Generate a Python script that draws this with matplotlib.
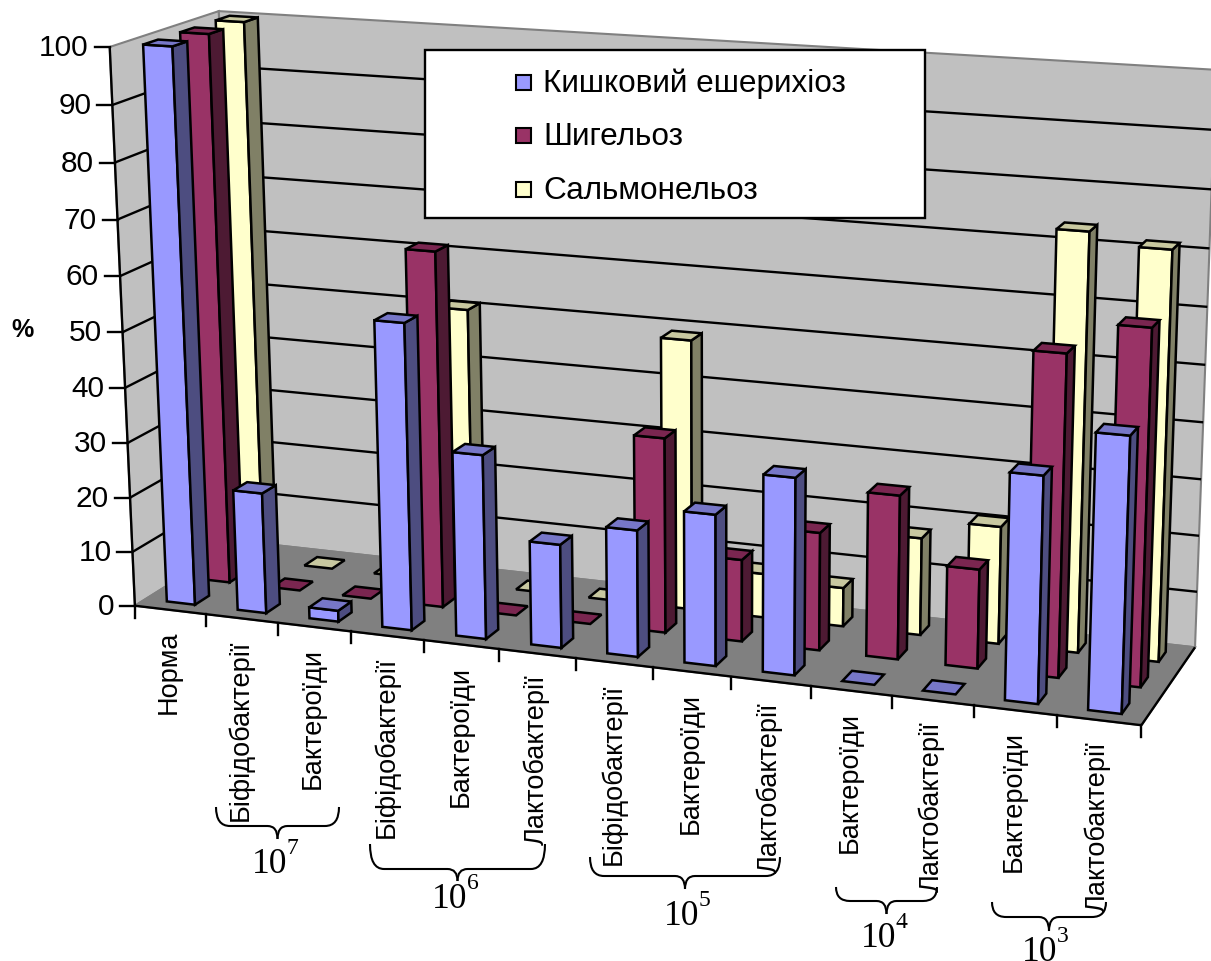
import numpy as np
import matplotlib
matplotlib.use("Agg")
import matplotlib.pyplot as plt
from matplotlib.path import Path
from matplotlib.patches import PathPatch, Rectangle

# Data (%)
categories = ["Норма", "Біфідобактерії", "Бактероїди", "Біфідобактерії", "Бактероїди", "Лактобактерії",
              "Біфідобактерії", "Бактероїди", "Лактобактерії", "Бактероїди", "Лактобактерії",
              "Бактероїди", "Лактобактерії"]
series_names = ["Кишковий ешерихіоз", "Шигельоз", "Сальмонельоз"]
escherichiosis = [100, 22, 2, 55, 33, 18.5, 22.5, 26.7, 34.5, 0, 0, 39, 47]
shigellosis = [100, 0, 0, 64.5, 0, 0, 35, 14.7, 21, 29, 17.5, 56, 61.5]
salmonellosis = [100, 0, 0, 51, 0, 0, 49, 8, 7, 17.5, 21, 73.5, 71.5]
yticks = list(range(0, 101, 10))
groups = [("7", 216, 339, 808, 827, 840, 252, 873),
          ("6", 370, 545, 845, 870, 882, 432, 908),
          ("5", 590, 780, 858, 877, 890, 664, 925),
          ("4", 836, 937, 888, 902, 915, 861, 947),
          ("3", 992, 1106, 903, 918, 932, 1022, 961)]

front = ["#9999FF", "#993366", "#FFFFCC"]
side = ["#4D4D80", "#4D1A33", "#808066"]
top = ["#7777C8", "#7A2650", "#C8C8A0"]

# Perspective of the Excel-style box, fitted from the frame corners
# (category, row, value) -> picture pixel
frame = [((0, 0, 0), (135, 606)), ((0, 0, 100), (110, 46)), ((0, 0, 50), (122, 334)),
         ((0, 3, 0), (239, 543)), ((0, 3, 100), (219, 13)),
         ((13, 0, 0), (1141, 725)), ((13, 0, 100), (1163, 118)),
         ((13, 3, 0), (1196, 649)), ((13, 3, 100), (1214, 68)),
         ((1, 0, 0), (206, 615)), ((5, 0, 0), (498, 650)), ((12, 0, 0), (1057, 716))]
A = []
for (x, z, v), (u, w) in frame:
    A.append([x, z, v, 1, 0, 0, 0, 0, -u * x, -u * z, -u * v, -u])
    A.append([0, 0, 0, 0, x, z, v, 1, -w * x, -w * z, -w * v, -w])
P = np.linalg.svd(np.array(A, dtype=float))[2][-1].reshape(3, 4)


def proj(x, z, v):
    h = P @ np.array([x, z, v, 1.0])
    return h[0] / h[2], h[1] / h[2]


def face(pts, color, zorder=2, lw=1.8):
    xy = [proj(*p) for p in pts]
    ax.fill([q[0] for q in xy], [q[1] for q in xy], facecolor=color, edgecolor="black",
            linewidth=lw, joinstyle="miter", zorder=zorder)


def line(a, b, color="black", lw=1.7, zorder=1):
    pa, pb = proj(*a), proj(*b)
    ax.plot([pa[0], pb[0]], [pa[1], pb[1]], color=color, lw=lw, zorder=zorder, solid_capstyle="butt")


fig = plt.figure(figsize=(12.11, 9.62), dpi=100)
ax = fig.add_axes([0, 0, 1, 1])
ax.set_xlim(0, 1211)
ax.set_ylim(962, 0)
ax.axis("off")

# Walls and floor
for pts, c in [([(0, 0, 0), (0, 3, 0), (0, 3, 100), (0, 0, 100)], "#C0C0C0"),
               ([(0, 3, 0), (13, 3, 0), (13, 3, 100), (0, 3, 100)], "#C0C0C0"),
               ([(0, 0, 0), (13, 0, 0), (13, 3, 0), (0, 3, 0)], "#808080")]:
    xy = [proj(*p) for p in pts]
    ax.fill([q[0] for q in xy], [q[1] for q in xy], facecolor=c, edgecolor="#808080", lw=1.5, zorder=1)

for v in yticks[1:-1]:
    line((0, 0, v), (0, 3, v))
    line((0, 3, v), (13, 3, v))
line((0, 0, 0), (0, 0, 100))
line((0, 0, 0), (13, 0, 0))
line((13, 0, 0), (13, 3, 0))

# Ticks and labels
for v in yticks:
    x0, y0 = proj(0, 0, v)
    ax.plot([x0 - 15, x0], [y0, y0], color="black", lw=1.7, zorder=1)
    ax.text(x0 - 21, y0, str(v), ha="right", va="center", fontsize=21.5, family="Liberation Sans")
for i in range(14):
    x0, y0 = proj(i, 0, 0)
    ax.plot([x0, x0], [y0, y0 + 12], color="black", lw=1.7, zorder=1)
for i, name in enumerate(categories):
    x0, y0 = proj(i + 0.5, 0, 0)
    ax.text(x0 - 1, y0 + 20, name, rotation=90, ha="center", va="top", fontsize=19.5, family="Liberation Sans")
ax.text(23, 330, "%", ha="center", va="center", fontsize=18, fontweight="bold", family="Liberation Sans")

# Bars, back row first
for j, values in reversed(list(enumerate([escherichiosis, shigellosis, salmonellosis]))):
    for i, v in enumerate(values):
        x0, x1, z0, z1 = i + 0.3, i + 0.7, j + 0.3, j + 0.7
        if v > 0:
            face([(x0, z0, 0), (x1, z0, 0), (x1, z0, v), (x0, z0, v)], front[j], 3)
            face([(x1, z0, 0), (x1, z1, 0), (x1, z1, v), (x1, z0, v)], side[j], 3)
        face([(x0, z0, v), (x1, z0, v), (x1, z1, v), (x0, z1, v)], top[j], 3)

# Legend
ax.add_patch(Rectangle((425, 51), 500, 168, facecolor="white", edgecolor="black", lw=1.7, zorder=5))
for name, c, y in zip(series_names, front, [84, 137, 191]):
    ax.add_patch(Rectangle((516, y - 8), 15, 15, facecolor=c, edgecolor="black", lw=1.5, zorder=6))
    ax.text(543, y, name, ha="left", va="center", fontsize=22.7, family="Liberation Sans", zorder=6)

# Braces under the category labels
for exp, x0, x1, y0, y1, tip, tx, base in groups:
    xm = (x0 + x1) / 2
    r = 14
    left = Path([(x0, y0), (x0, y1), (x0 + r, y1), (xm - 10, y1), (xm, y1), (xm, tip)],
                [Path.MOVETO, Path.CURVE3, Path.CURVE3, Path.LINETO, Path.CURVE3, Path.CURVE3])
    right = Path([(x1, y0), (x1, y1), (x1 - r, y1), (xm + 10, y1), (xm, y1), (xm, tip)],
                 [Path.MOVETO, Path.CURVE3, Path.CURVE3, Path.LINETO, Path.CURVE3, Path.CURVE3])
    for p in (left, right):
        ax.add_patch(PathPatch(p, facecolor="none", edgecolor="black", lw=1.5, zorder=4))
    ax.text(tx, base, "10", ha="left", va="baseline", fontsize=25.5, family="Liberation Serif")
    ax.text(tx + 35, base - 19, exp, ha="left", va="baseline", fontsize=17, family="Liberation Serif")

fig.savefig("out.png", dpi=100)
